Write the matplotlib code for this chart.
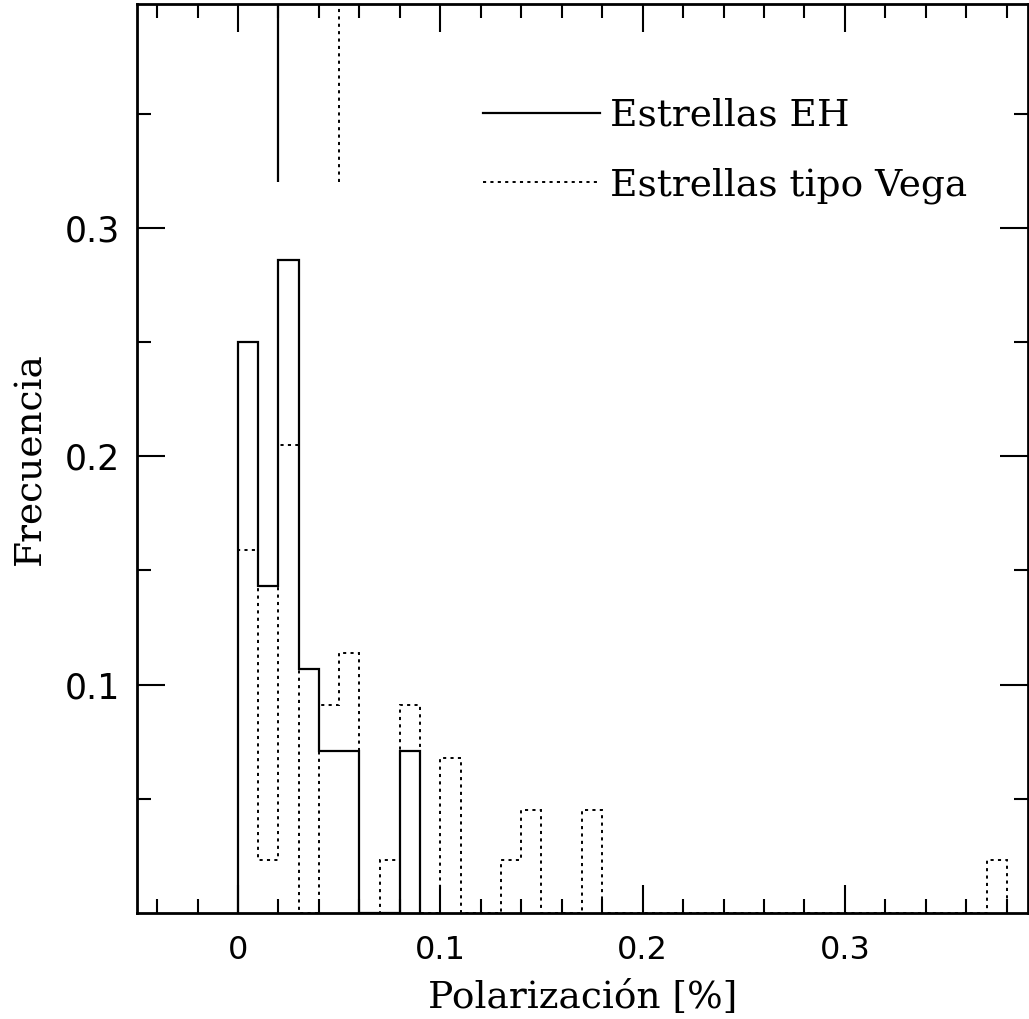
import numpy as np
import matplotlib
matplotlib.use("Agg")
import matplotlib.pyplot as plt

# Data
bin_edges_eh = np.round(np.arange(0.0, 0.0901, 0.01), 3)
freq_eh = [0.250, 0.143, 0.286, 0.107, 0.071, 0.071, 0.0, 0.0, 0.071]

bin_edges_vega = np.round(np.arange(0.0, 0.3801, 0.01), 3)
freq_vega = [0.159, 0.023, 0.205, 0.0, 0.091, 0.114, 0.0, 0.023, 0.091, 0.0,
             0.068, 0.0, 0.0, 0.023, 0.045, 0.0, 0.0, 0.045] + [0.0] * 19 + [0.023]

median_eh = 0.02
median_vega = 0.05
median_marker_bottom = 0.32

labels = ["Estrellas EH", "Estrellas tipo Vega"]
xtick_vals = [0, 0.1, 0.2, 0.3]
xtick_labels = ["0", "0.1", "0.2", "0.3"]
ytick_vals = [0.1, 0.2, 0.3]
ytick_labels = ["0.1", "0.2", "0.3"]

serif = ["DejaVu Serif"]

fig = plt.figure(figsize=(10.29, 10.19), dpi=100)
ax = fig.add_axes([0.133, 0.104, 0.866, 0.892])

dot = (0, (1.6, 2.2))
ax.stairs(freq_eh, bin_edges_eh, color="black", lw=1.6, label=labels[0], zorder=3)
ax.stairs(freq_vega, bin_edges_vega, color="black", lw=1.4, linestyle=dot,
          label=labels[1], zorder=2)

ymax = 0.398
ax.vlines([median_eh], median_marker_bottom, ymax, colors="black", lw=1.6)
ax.vlines([median_vega], median_marker_bottom, ymax, colors="black", lw=1.4,
          linestyles=[dot])

ax.set_xlim(-0.05, 0.3905)
ax.set_ylim(0, ymax)

ax.set_xticks(xtick_vals)
ax.set_xticklabels(xtick_labels, fontfamily="DejaVu Sans", fontsize=23)
ax.set_xticks(np.arange(-0.04, 0.39, 0.02), minor=True)
ax.set_yticks(ytick_vals)
ax.set_yticklabels(ytick_labels, fontfamily="DejaVu Sans", fontsize=25)
ax.set_yticks([0.05, 0.15, 0.25, 0.35], minor=True)

ax.tick_params(which="both", direction="in", top=True, right=True, width=1.5)
ax.tick_params(which="major", length=20)
ax.tick_params(which="minor", length=10)
ax.tick_params(axis="x", pad=16)
ax.tick_params(axis="y", pad=12)
for s in ax.spines.values():
    s.set_linewidth(2)

ax.set_xlabel("Polarización [%]", fontfamily=serif, fontsize=27, labelpad=10)
ax.set_ylabel("Frecuencia", fontfamily=serif, fontsize=27, labelpad=12)

leg = ax.legend(loc="upper left", bbox_to_anchor=(0.388, 0.897), frameon=False,
                prop={"family": serif, "size": 27}, handlelength=3.12,
                handletextpad=0.27, labelspacing=0.89, borderpad=0, borderaxespad=0)

fig.savefig("out.png", dpi=100)
